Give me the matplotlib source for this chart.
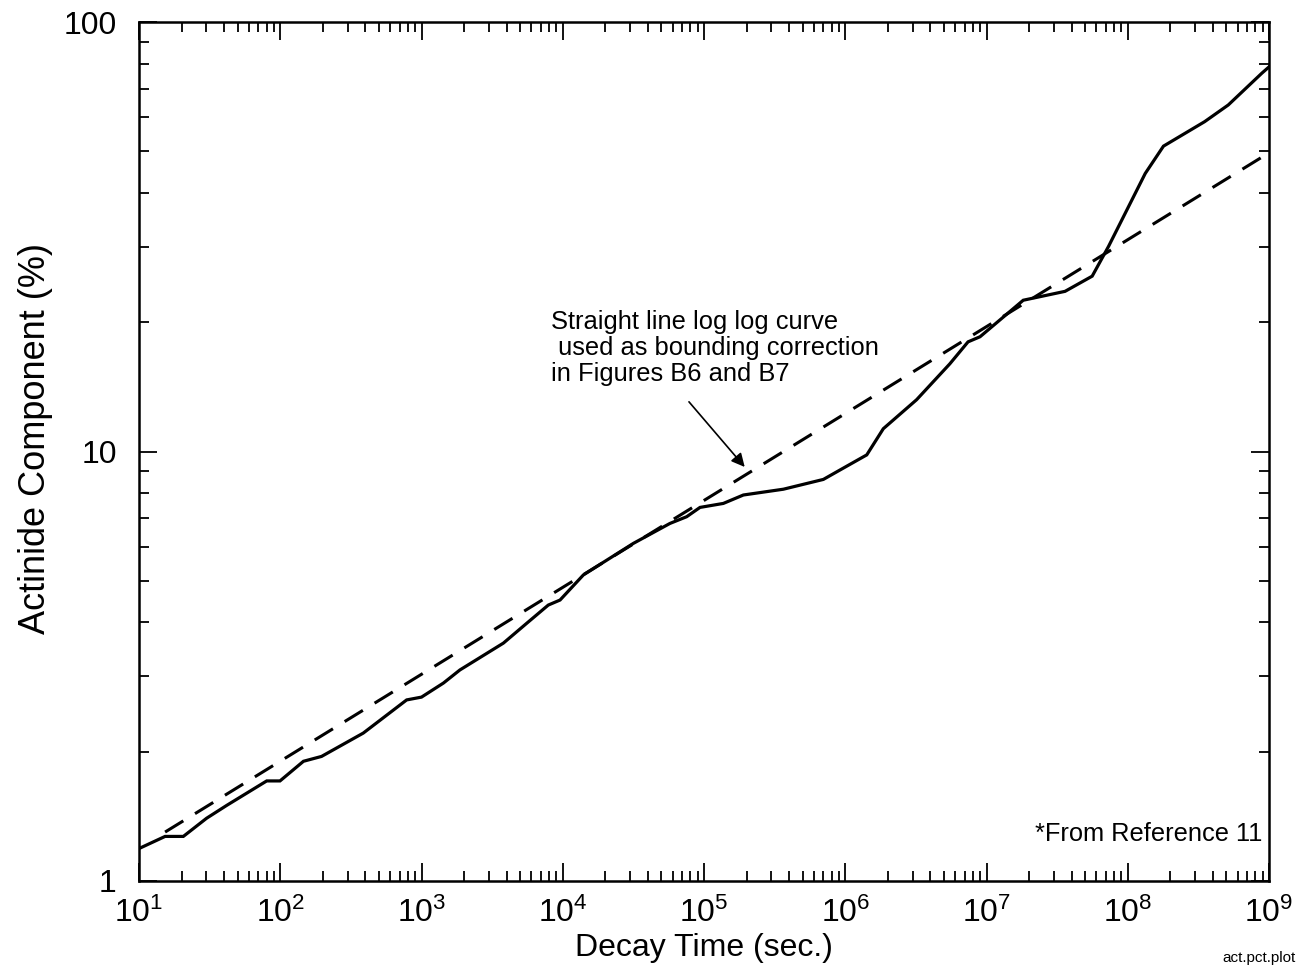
import matplotlib
matplotlib.use("Agg")
import matplotlib.pyplot as plt
from matplotlib.ticker import LogLocator, LogFormatterMathtext, FixedLocator, FixedFormatter, NullFormatter

plt.rcParams['font.family'] = ['Liberation Sans', 'DejaVu Sans']
plt.rcParams['mathtext.fontset'] = 'custom'
plt.rcParams['mathtext.rm'] = 'Liberation Sans'
plt.rcParams['mathtext.it'] = 'Liberation Sans'

# actinide component curve
decay_time = [10, 15.3, 20.6, 30.1, 41.8, 80.2, 99.6, 146, 196, 387, 785, 1000,
              1430, 1870, 3800, 5550, 7900, 9570, 14000, 31600, 57400, 75400,
              93700, 1.37e5, 1.9e5, 3.65e5, 7.0e5, 9.2e5, 1.42e6, 1.86e6, 3.2e6,
              5.5e6, 7.4e6, 9.0e6, 1.82e7, 3.6e7, 5.6e7, 7.3e7, 1.33e8, 1.79e8,
              3.5e8, 5.15e8, 8.9e8, 1.0e9]
actinide_pct = [1.19, 1.27, 1.27, 1.40, 1.50, 1.71, 1.71, 1.90, 1.95, 2.21, 2.64, 2.68,
                2.89, 3.10, 3.58, 3.98, 4.39, 4.51, 5.16, 6.11, 6.80, 7.05,
                7.41, 7.57, 7.92, 8.17, 8.61, 9.06, 9.82, 11.3, 13.2,
                16.0, 18.0, 18.5, 22.5, 23.6, 25.6, 30.0, 44.4, 51.4,
                58.6, 64.1, 76.0, 78.6]

# straight line bounding curve
bound_time = [15.3, 1.0e9]
bound_pct = [1.30, 49.6]

x_ticks = [10.0 ** k for k in range(1, 10)]
y_ticks = [1, 10, 100]
y_ticklabels = ['1', '10', '100']

fig = plt.figure(figsize=(12.98, 9.67), dpi=100)
ax = fig.add_axes([139/1298, 86/967, 1130/1298, 859/967])

ax.plot(decay_time, actinide_pct, color='black', lw=2.3, solid_joinstyle='miter')
ax.plot(bound_time, bound_pct, color='black', lw=2.2, ls=(0, (7, 4.5)))

ax.set_xscale('log')
ax.set_yscale('log')
ax.set_xlim(10, 1e9)
ax.set_ylim(1, 100)

ax.xaxis.set_major_locator(FixedLocator(x_ticks))
ax.xaxis.set_major_formatter(LogFormatterMathtext())
ax.xaxis.set_minor_locator(LogLocator(base=10, subs=range(2, 10), numticks=20))
ax.xaxis.set_minor_formatter(NullFormatter())
ax.yaxis.set_major_locator(FixedLocator(y_ticks))
ax.yaxis.set_major_formatter(FixedFormatter(y_ticklabels))
ax.yaxis.set_minor_locator(LogLocator(base=10, subs=range(2, 10), numticks=20))
ax.yaxis.set_minor_formatter(NullFormatter())

ax.tick_params(which='both', direction='in', top=True, right=True, width=1.3)
ax.tick_params(which='major', length=13, labelsize=23)
ax.tick_params(which='minor', length=7)
ax.tick_params(axis='x', which='major', pad=12)
ax.tick_params(axis='y', which='major', pad=16)
for s in ax.spines.values():
    s.set_linewidth(1.8)

ax.set_xlabel('Decay Time (sec.)', fontsize=23, labelpad=3)
ax.set_ylabel('Actinide Component (%)', fontsize=26, va='center')
ax.yaxis.set_label_coords(-0.092, 0.515)

ax.text(8260, 21.3, 'Straight line log log curve\n used as bounding correction\nin Figures B6 and B7',
        fontsize=18.4, ha='left', va='top', linespacing=1.08)
ax.annotate('', xy=(2.0e5, 9.1), xytext=(7.6e4, 13.2),
            arrowprops=dict(arrowstyle='-|>', color='black', lw=1.2, mutation_scale=20))

ax.text(0.994, 0.055, '*From Reference 11', transform=ax.transAxes, fontsize=18.3,
        ha='right', va='center')
fig.text(0.998, 0.002, 'act.pct.plot', fontsize=11, ha='right', va='bottom')

fig.savefig('out.png', dpi=100)
